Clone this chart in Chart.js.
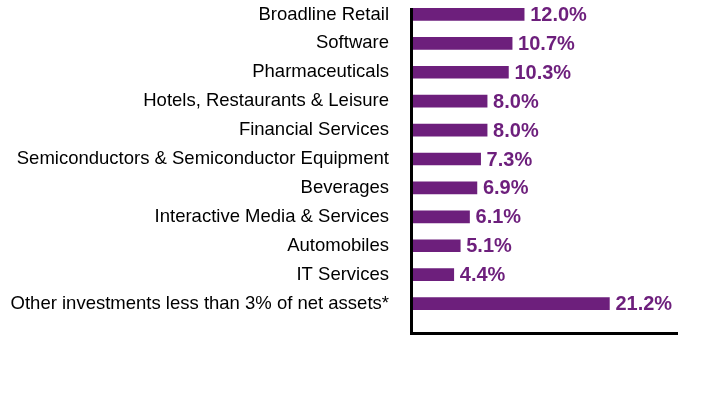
<!DOCTYPE html>
<html>
<head>
<meta charset="utf-8">
<script src="https://cdn.jsdelivr.net/npm/chart.js@4/dist/chart.umd.min.js"></script>
<style>
  html, body { margin: 0; padding: 0; background: #fff; }
  #wrap { width: 708px; height: 396px; position: relative; }
</style>
</head>
<body>
<div id="wrap"><canvas id="sectorChart"></canvas></div>
<script>
const sectors = [
    'Broadline Retail',
    'Software',
    'Pharmaceuticals',
    'Hotels, Restaurants & Leisure',
    'Financial Services',
    'Semiconductors & Semiconductor Equipment',
    'Beverages',
    'Interactive Media & Services',
    'Automobiles',
    'IT Services',
    'Other investments less than 3% of net assets*'
];
const weights = [12.0, 10.7, 10.3, 8.0, 8.0, 7.3, 6.9, 6.1, 5.1, 4.4, 21.2];

const purple = '#6d1f7c';

// percentage labels at the end of each bar
const valueLabels = {
    id: 'valueLabels',
    afterDatasetsDraw(chart) {
        const ctx = chart.ctx;
        const meta = chart.getDatasetMeta(0);
        ctx.save();
        ctx.font = 'bold 20px "Liberation Sans", Arial, sans-serif';
        ctx.fillStyle = purple;
        ctx.textAlign = 'left';
        ctx.textBaseline = 'middle';
        meta.data.forEach((bar, i) => {
            ctx.fillText(weights[i].toFixed(1) + '%', bar.x + 6, bar.y + 1);
        });
        ctx.restore();
    }
};

// the L-shaped axis frame
const axisFrame = {
    id: 'axisFrame',
    afterDraw(chart) {
        const ctx = chart.ctx;
        const area = chart.chartArea;
        ctx.save();
        ctx.strokeStyle = '#000';
        ctx.lineWidth = 3;
        ctx.beginPath();
        ctx.moveTo(area.left - 1.5, area.top + 8);
        ctx.lineTo(area.left - 1.5, area.bottom + 15.5);
        ctx.lineTo(area.right + 1, area.bottom + 15.5);
        ctx.stroke();
        ctx.restore();
    }
};

new Chart(document.getElementById('sectorChart'), {
    type: 'bar',
    data: {
        labels: sectors,
        datasets: [{
            data: weights,
            backgroundColor: purple,
            barThickness: 12
        }]
    },
    options: {
        indexAxis: 'y',
        responsive: true,
        maintainAspectRatio: false,
        animation: false,
        layout: {
            padding: { top: 0, bottom: 78, right: 31, left: 0 }
        },
        plugins: {
            legend: { display: false },
            tooltip: { enabled: false }
        },
        scales: {
            x: {
                min: 0,
                max: 28.5,
                display: false
            },
            y: {
                grid: { display: false, drawTicks: false },
                border: { display: false },
                ticks: {
                    color: '#000',
                    padding: 24,
                    font: { family: '"Liberation Sans", Arial, sans-serif', size: 18.5 }
                },
                afterFit(scale) {
                    scale.width = 413;
                    scale.paddingTop = 0;
                    scale.paddingBottom = 0;
                }
            }
        }
    },
    plugins: [valueLabels, axisFrame]
});
</script>
</body>
</html>
